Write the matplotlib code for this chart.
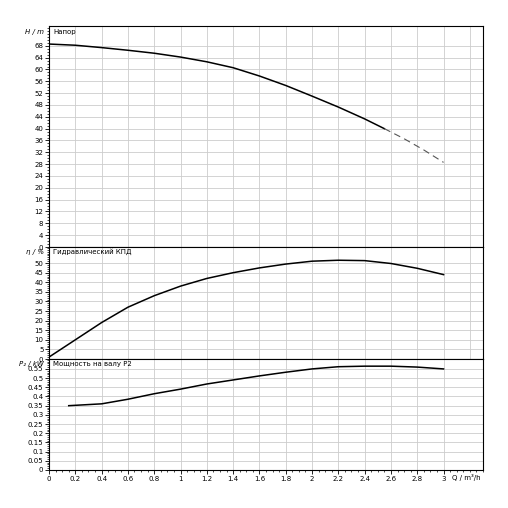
import matplotlib
matplotlib.use("Agg")
import matplotlib.pyplot as plt
import numpy as np
from matplotlib.ticker import MultipleLocator

q_h = [0, 0.2, 0.4, 0.6, 0.8, 1.0, 1.2, 1.4, 1.6, 1.8, 2.0, 2.2, 2.4, 2.55]
h = [68.6, 68.2, 67.4, 66.5, 65.5, 64.2, 62.6, 60.6, 57.8, 54.6, 51.0, 47.3, 43.3, 40.0]
q_hd = [2.55, 2.7, 2.85, 3.0]
h_d = [40.0, 36.6, 32.8, 28.6]
q_e = [0, 0.2, 0.4, 0.6, 0.8, 1.0, 1.2, 1.4, 1.6, 1.8, 2.0, 2.2, 2.4, 2.6, 2.8, 3.0]
eff = [1, 10, 19, 27, 33, 38, 42, 45, 47.5, 49.5, 51, 51.5, 51.3, 49.8, 47.3, 44]
q_p = [0.15, 0.4, 0.6, 0.8, 1.0, 1.2, 1.4, 1.6, 1.8, 2.0, 2.2, 2.4, 2.6, 2.8, 3.0]
p2 = [0.35, 0.36, 0.385, 0.415, 0.44, 0.468, 0.49, 0.512, 0.532, 0.55, 0.562, 0.565, 0.565, 0.56, 0.55]
h_ticks = list(range(0, 69, 4))
e_ticks = list(range(0, 51, 5))
p_ticks = [round(0.05 * i, 2) for i in range(12)]

fig = plt.figure(figsize=(5.08, 5.08), dpi=100)
W = 508
def ax_at(top, bot):
    return fig.add_axes([49/W, 1-bot/W, 434/W, (bot-top)/W])
a1 = ax_at(26, 247); a2 = ax_at(247, 359); a3 = ax_at(359, 470)
fs = 5
for ax, ymax, ticks, mnr, lab, title in [
    (a1, 74.7, h_ticks, 1, "H / m", "Напор"),
    (a2, 58.4, e_ticks, 1, "η / %", "Гидравлический КПД"),
    (a3, 0.604, p_ticks, 0.01, "P₂ / kW", "Мощность на валу P2")]:
    ax.set_xlim(0, 3.3); ax.set_ylim(0, ymax)
    ax.xaxis.set_major_locator(MultipleLocator(0.2))
    ax.xaxis.set_minor_locator(MultipleLocator(0.05))
    ax.set_yticks(ticks)
    ax.set_yticklabels(["%g" % t for t in ticks])
    ax.yaxis.set_minor_locator(MultipleLocator(mnr))
    ax.grid(True, which="major", color="#cccccc", lw=0.6)
    ax.tick_params(labelsize=fs, length=3, width=0.6, pad=1)
    ax.tick_params(which="minor", length=1.5, width=0.5)
    for s in ax.spines.values(): s.set_linewidth(0.8)
    ax.text(0.01, 0.985, title, transform=ax.transAxes, fontsize=fs, va="top")
    ax.text(-0.012, 0.985, lab, transform=ax.transAxes, fontsize=fs, va="top", ha="right", style="italic")
    if ax is not a3:
        ax.tick_params(labelbottom=False)
xt = np.arange(0, 3.01, 0.2)
a3.set_xticks(xt); a3.set_xticklabels([("%g" % round(v, 1)) for v in xt])
a3.text(3.28, -0.04, "Q / m³/h", fontsize=fs, ha="right", va="top", transform=a3.get_xaxis_transform())
a1.plot(q_h, h, color="black", lw=1.1)
a1.plot(q_hd, h_d, color="#555555", lw=0.8, ls=(0, (6, 4)))
a2.plot(q_e, eff, color="black", lw=1.1)
a3.plot(q_p, p2, color="black", lw=1.1)
fig.savefig("out.png", dpi=100)
